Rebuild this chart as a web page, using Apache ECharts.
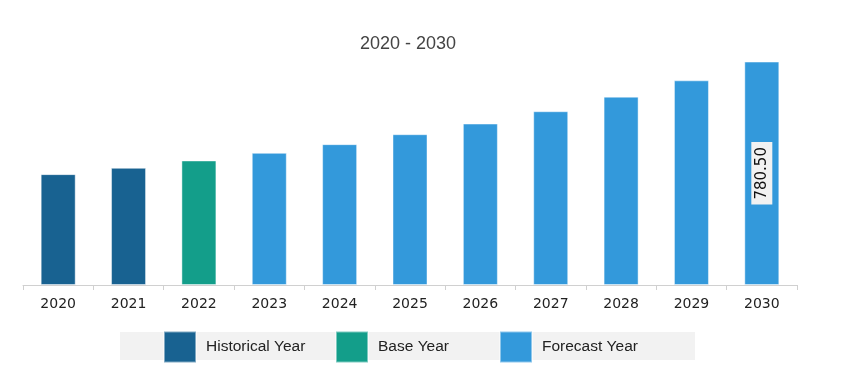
<!DOCTYPE html>
<html>
<head>
<meta charset="utf-8">
<script src="https://cdn.jsdelivr.net/npm/echarts@6/dist/echarts.min.js"></script>
<style>html,body{margin:0;padding:0;background:#fff;}#c{width:845px;height:382px;}</style>
</head>
<body>
<div id="c"></div>
<script>
var categories = ['2020','2021','2022','2023','2024','2025','2026','2027','2028','2029','2030'];
var historical = [387.3, 409.3, null, null, null, null, null, null, null, null, null];
var baseYear   = [null, null, 435.0, null, null, null, null, null, null, null, null];
var forecast   = [null, null, null, 461.6, 492.0, 526.8, 564.0, 607.0, 658.0, 715.0, 780.5];
var labelledIndex = 10;
var titleText = '2020 - 2030';
var seriesNames = ['Historical Year', 'Base Year', 'Forecast Year'];
var colors = ['#186291', '#139e8a', '#3399db'];

var chart = echarts.init(document.getElementById('c'));
function toData(arr, withLabel) {
  return arr.map(function (v, i) {
    if (v === null) return '-';
    if (withLabel && i === labelledIndex) {
      return {
        value: v,
        label: {
          show: true, position: 'inside', rotate: 90,
          formatter: function (p) { return p.value.toFixed(2); },
          color: '#111', fontFamily: 'DejaVu Sans', fontSize: 15,
          backgroundColor: '#f2f2f2', padding: [3, 5]
        }
      };
    }
    return v;
  });
}
var allData = [historical, baseYear, forecast];
var series = seriesNames.map(function (n, k) {
  return {
    name: n, type: 'bar', stack: 'all', barWidth: 35,
    itemStyle: { color: colors[k], borderColor: 'rgba(255,255,255,0.45)', borderWidth: 1 },
    data: toData(allData[k], k === 2)
  };
});
var legendLefts = [163, 335, 499];
var legends = seriesNames.map(function (n, k) {
  return {
    data: [n], left: legendLefts[k], top: 330.5, padding: 0,
    icon: 'rect', itemWidth: 32, itemHeight: 31, itemGap: 10,
    selectedMode: false,
    textStyle: { fontFamily: 'Liberation Sans', fontSize: 15.5, color: '#222', padding: [0, 0, 0, 5] }
  };
});
chart.setOption({
  animation: false,
  title: {
    text: titleText, left: 355, top: 30,
    textStyle: { fontFamily: 'Liberation Sans', fontSize: 18, fontWeight: 'normal', color: '#444' }
  },
  graphic: [{
    type: 'rect', left: 120, top: 332, z: -10,
    shape: { width: 575, height: 28 },
    style: { fill: '#f2f2f2' }
  }],
  legend: legends,
  grid: { left: 23, right: 48, top: 56, bottom: 97 },
  xAxis: {
    type: 'category', data: categories,
    axisLine: { lineStyle: { color: '#d0d0d0' } },
    axisTick: { show: true, length: 5, lineStyle: { color: '#d0d0d0' } },
    axisLabel: { fontFamily: 'DejaVu Sans', fontSize: 14, color: '#222', margin: 12 }
  },
  yAxis: { type: 'value', min: 0, max: 800, show: false, splitLine: { show: false } },
  series: series
});
</script>
</body>
</html>
